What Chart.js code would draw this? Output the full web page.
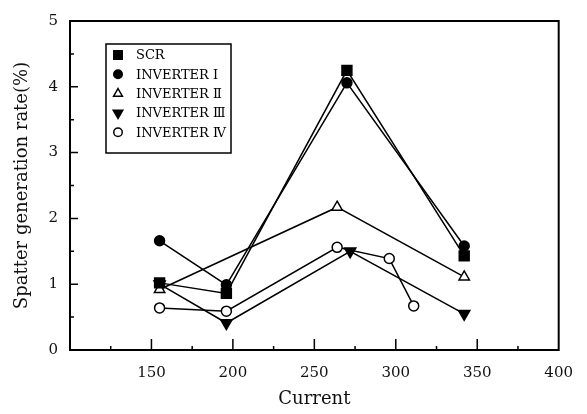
<!DOCTYPE html>
<html>
<head>
<meta charset="utf-8">
<script src="https://cdn.jsdelivr.net/npm/chart.js@4.4.0/dist/chart.umd.min.js"></script>
<style>
  html, body { margin: 0; padding: 0; background: #fff; }
</style>
</head>
<body>
<canvas id="myChart" width="587" height="414"></canvas>
<script>
// data
var seriesNames = ["SCR", "INVERTER Ⅰ", "INVERTER Ⅱ", "INVERTER Ⅲ", "INVERTER Ⅳ"];
var scrX = [155, 196, 270, 342];
var scrY = [1.02, 0.86, 4.25, 1.43];
var inv1X = [155, 196, 270, 342];
var inv1Y = [1.66, 0.99, 4.06, 1.58];
var inv2X = [155, 264, 342];
var inv2Y = [0.92, 2.17, 1.11];
var inv3X = [155, 196, 272, 342];
var inv3Y = [1.0, 0.41, 1.50, 0.55];
var inv4X = [155, 196, 264, 296, 311];
var inv4Y = [0.64, 0.59, 1.56, 1.39, 0.67];
var xTicks = [150, 200, 250, 300, 350, 400];
var yTicks = [0, 1, 2, 3, 4, 5];

var serif = "'DejaVu Serif', 'Liberation Serif', serif";

function pts(xs, ys) {
  return xs.map(function (x, i) { return { x: x, y: ys[i] }; });
}

function mkSet(i, xs, ys, style, fill, rot, r) {
  return {
    label: seriesNames[i],
    data: pts(xs, ys),
    borderColor: "#000",
    borderWidth: 1.5,
    pointStyle: style,
    pointRotation: rot,
    pointRadius: r,
    pointBackgroundColor: fill,
    pointBorderColor: "#000",
    pointBorderWidth: 1.5,
    tension: 0
  };
}

var datasets = [
  mkSet(0, scrX, scrY, "rect", "#000", 0, 7),
  mkSet(1, inv1X, inv1Y, "circle", "#000", 0, 5),
  mkSet(2, inv2X, inv2Y, "triangle", "#fff", 0, 6),
  mkSet(3, inv3X, inv3Y, "triangle", "#000", 180, 6.5),
  mkSet(4, inv4X, inv4Y, "circle", "#fff", 0, 5)
];

// frame + inward tick marks
var frame = {
  id: "frame",
  beforeDatasetsDraw: function (chart) {
    var ctx = chart.ctx, a = chart.chartArea;
    var xs = chart.scales.x, ys = chart.scales.y;
    ctx.save();
    ctx.strokeStyle = "#000";
    ctx.lineWidth = 2;
    ctx.strokeRect(a.left, a.top, a.right - a.left, a.bottom - a.top);
    ctx.lineWidth = 1.5;
    ctx.beginPath();
    for (var v = 125; v < 400; v += 25) {
      var px = xs.getPixelForValue(v);
      var len = v % 50 === 0 ? 11 : 4;
      ctx.moveTo(px, a.bottom);
      ctx.lineTo(px, a.bottom - len);
    }
    for (var w = 0.5; w < 5; w += 0.5) {
      var py = ys.getPixelForValue(w);
      var l2 = w % 1 === 0 ? 8 : 4;
      ctx.moveTo(a.left, py);
      ctx.lineTo(a.left + l2, py);
    }
    ctx.stroke();
    ctx.restore();
  }
};

// boxed legend inside the plot
var boxLegend = {
  id: "boxLegend",
  afterDraw: function (chart) {
    var ctx = chart.ctx, a = chart.chartArea;
    var left = a.left + 36, top = a.top + 23;
    ctx.save();
    ctx.strokeStyle = "#000";
    ctx.lineWidth = 1.5;
    ctx.strokeRect(left, top, 125, 109);
    ctx.font = "13px " + serif;
    ctx.fillStyle = "#000";
    ctx.textBaseline = "middle";
    chart.data.datasets.forEach(function (ds, i) {
      var y = top + 11 + i * 19.3;
      ctx.fillStyle = ds.pointBackgroundColor;
      ctx.strokeStyle = "#000";
      ctx.lineWidth = 1.5;
      Chart.helpers.drawPoint(ctx, {
        pointStyle: ds.pointStyle,
        rotation: ds.pointRotation,
        radius: ds.pointRadius * 0.85,
        borderWidth: 1.5
      }, left + 12, y);
      ctx.fillStyle = "#000";
      ctx.fillText(ds.label, left + 30, y + 1);
    });
    ctx.restore();
  }
};

new Chart("myChart", {
  type: "line",
  data: { datasets: datasets },
  options: {
    responsive: false,
    animation: false,
    layout: { padding: { top: 11, right: 28, left: 0, bottom: 0 } },
    plugins: { legend: { display: false }, tooltip: { enabled: false } },
    scales: {
      x: {
        type: "linear",
        min: 100,
        max: 400,
        afterFit: function (s) { s.height = 64; },
        afterBuildTicks: function (s) {
          s.ticks = xTicks.map(function (v) { return { value: v }; });
        },
        grid: { display: false, drawTicks: false },
        border: { display: false },
        ticks: { color: "#111", padding: 14, font: { family: serif, size: 15 } },
        title: {
          display: true, text: "Current", color: "#111",
          font: { family: serif, size: 18 }, padding: { top: 4, bottom: 4 }
        }
      },
      y: {
        min: 0,
        max: 5,
        afterFit: function (s) { s.width = 70; },
        afterBuildTicks: function (s) {
          s.ticks = yTicks.map(function (v) { return { value: v }; });
        },
        grid: { display: false, drawTicks: false },
        border: { display: false },
        ticks: { color: "#111", padding: 12, font: { family: serif, size: 15 } },
        title: {
          display: true, text: "Spatter generation rate(%)", color: "#111",
          font: { family: serif, size: 18 }, padding: { top: 12, bottom: 4 }
        }
      }
    }
  },
  plugins: [frame, boxLegend]
});
</script>
</body>
</html>
